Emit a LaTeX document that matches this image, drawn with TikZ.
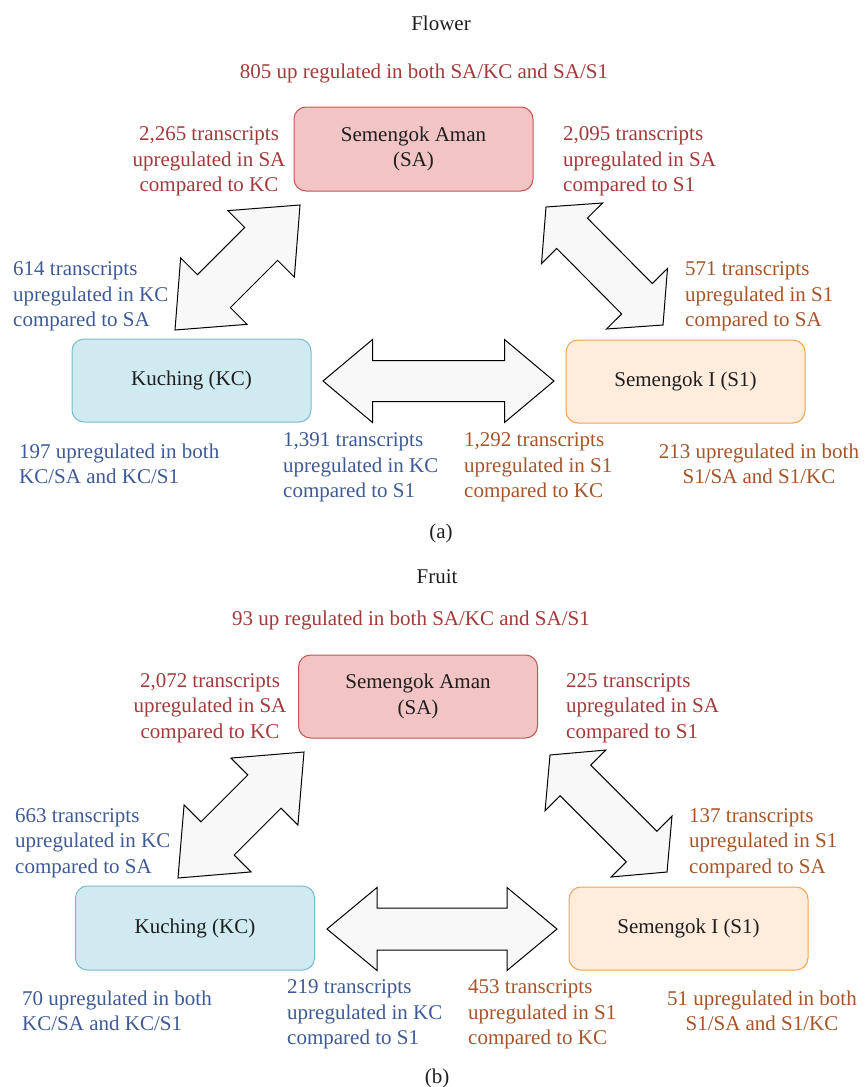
\documentclass[tikz,border=0pt]{standalone}
\usepackage{fontspec}
\setmainfont{Liberation Serif}
\definecolor{tred}{RGB}{163,58,58}
\definecolor{tblue}{RGB}{62,90,150}
\definecolor{torange}{RGB}{166,84,40}
\definecolor{safill}{RGB}{242,196,196}
\definecolor{sadraw}{RGB}{200,84,82}
\definecolor{kcfill}{RGB}{208,234,242}
\definecolor{kcdraw}{RGB}{122,186,206}
\definecolor{s1fill}{RGB}{255,236,221}
\definecolor{s1draw}{RGB}{247,162,76}
\definecolor{arrfill}{RGB}{248,248,248}
\definecolor{ink}{RGB}{30,30,30}
\tikzset{
  lbl/.style={font=\fontsize{21}{25.5}\selectfont, inner sep=0pt, align=left, yshift=-1.5pt},
  clbl/.style={font=\fontsize{21}{25.5}\selectfont, inner sep=0pt, align=center, yshift=-1.5pt},
  boxbase/.style={rounded corners=12pt, line width=1pt, minimum width=239pt, minimum height=83pt, align=center, text=ink, font=\fontsize{21}{25.5}\selectfont},
  sabox/.style={boxbase, fill=safill, draw=sadraw},
  kcbox/.style={boxbase, fill=kcfill, draw=kcdraw},
  s1box/.style={boxbase, fill=s1fill, draw=s1draw},
  fatarrow/.style={fill=arrfill, draw=black, line width=1pt, line join=miter}
}
\newcommand{\fatarr}[7]{%
  \begin{scope}[shift={(#1,#2)},rotate=#3]
    \draw[fatarrow] (0,0) -- (#5,#6) -- (#5,#7) -- ({#4-#5},#7) -- ({#4-#5},#6) -- (#4,0)
      -- ({#4-#5},-#6) -- ({#4-#5},-#7) -- (#5,-#7) -- (#5,-#6) -- cycle;
  \end{scope}}
\begin{document}
\begin{tikzpicture}[x=1pt,y=1pt]
\useasboundingbox (0,0) rectangle (865,-1087);
% ---------- panel (a) ----------
\node[clbl, text=ink] (tflower) at (441,-22) {Flower};
\node[clbl, text=tred] (aboth) at (424,-72) {805 up regulated in both SA/KC and SA/S1};
\node[sabox, minimum height=84pt] (asa) at (413.5,-149) {Semengok Aman\\(SA)};
\node[kcbox] (akc) at (191.5,-380.5) {Kuching (KC)};
\node[s1box] (as1) at (685.5,-381.5) {Semengok I (S1)};
\fatarr{175}{-330}{45}{176.8}{55}{47}{23.3}
\fatarr{546}{-207}{-45.24}{166.2}{37}{43}{21.6}
\fatarr{323}{-381}{0}{231}{49.5}{41.5}{20.5}
\node[clbl, text=tred] (a1) at (209,-160) {2,265 transcripts\\upregulated in SA\\compared to KC};
\node[lbl, text=tred, anchor=west] (a2) at (563,-160) {2,095 transcripts\\upregulated in SA\\compared to S1};
\node[lbl, text=tblue, anchor=west] (a3) at (13,-295) {614 transcripts\\upregulated in KC\\compared to SA};
\node[lbl, text=torange, anchor=west] (a4) at (685,-295) {571 transcripts\\upregulated in S1\\compared to SA};
\node[lbl, text=tblue, anchor=west] (a5) at (19,-462.5) {197 upregulated in both\\KC/SA and KC/S1};
\node[lbl, text=tblue, anchor=west] (a6) at (283,-466) {1,391 transcripts\\upregulated in KC\\compared to S1};
\node[lbl, text=torange, anchor=west] (a7) at (464,-466) {1,292 transcripts\\upregulated in S1\\compared to KC};
\node[clbl, text=torange] (a8) at (759,-462.5) {213 upregulated in both\\S1/SA and S1/KC};
\node[clbl, text=ink] (tcapa) at (441,-532) {(a)};
% ---------- panel (b) ----------
\node[clbl, text=ink] (tfruit) at (437,-575) {Fruit};
\node[clbl, text=tred] (bboth) at (411,-619) {93 up regulated in both SA/KC and SA/S1};
\node[sabox] (bsa) at (418,-696.5) {Semengok Aman\\(SA)};
\node[kcbox, minimum height=84pt] (bkc) at (195,-928) {Kuching (KC)};
\node[s1box] (bs1) at (688.5,-928.5) {Semengok I (S1)};
\fatarr{178}{-878}{45}{178.2}{56}{47.4}{23.5}
\fatarr{550}{-755}{-45}{165.5}{36}{43}{21.6}
\fatarr{327}{-929}{0}{230}{50}{41.5}{21}
\node[clbl, text=tred] (b1) at (210,-706.5) {2,072 transcripts\\upregulated in SA\\compared to KC};
\node[lbl, text=tred, anchor=west] (b2) at (566,-706.5) {225 transcripts\\upregulated in SA\\compared to S1};
\node[lbl, text=tblue, anchor=west] (b3) at (15,-841.5) {663 transcripts\\upregulated in KC\\compared to SA};
\node[lbl, text=torange, anchor=west] (b4) at (689,-841.5) {137 transcripts\\upregulated in S1\\compared to SA};
\node[lbl, text=tblue, anchor=west] (b5) at (22,-1009.5) {70 upregulated in both\\KC/SA and KC/S1};
\node[lbl, text=tblue, anchor=west] (b6) at (287,-1013) {219 transcripts\\upregulated in KC\\compared to S1};
\node[lbl, text=torange, anchor=west] (b7) at (468,-1013) {453 transcripts\\upregulated in S1\\compared to KC};
\node[clbl, text=torange] (b8) at (762,-1009.5) {51 upregulated in both\\S1/SA and S1/KC};
\node[clbl, text=ink] (tcapb) at (437,-1077) {(b)};
\end{tikzpicture}
\end{document}
